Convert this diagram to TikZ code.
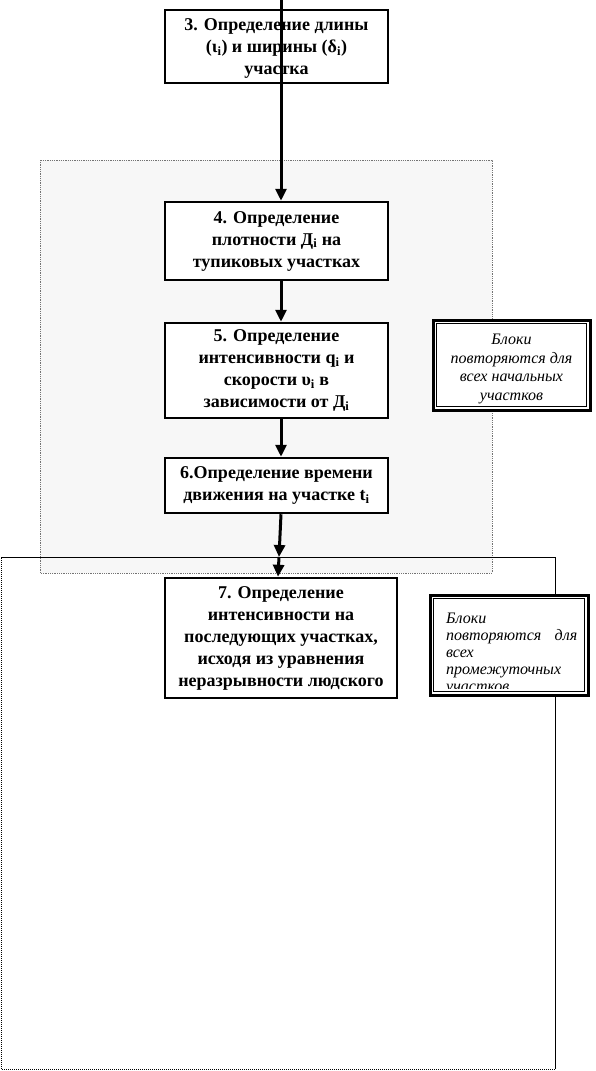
\documentclass[tikz,border=0pt]{standalone}
\usepackage{fontspec}
\setmainfont{Liberation Serif}
\usetikzlibrary{arrows.meta}
\begin{document}
\begin{tikzpicture}[x=1pt,y=-1pt,
  stepbox/.style={draw=black,line width=2.5pt,fill=white,font=\bfseries\fontsize{18}{22}\selectfont,align=center,inner sep=0pt},
  arr/.style={line width=3pt,-{Triangle[width=11pt,length=12pt]}},
  notebox/.style={draw=black,line width=3pt,fill=white,inner sep=0pt},
  notetext/.style={font=\itshape\fontsize{16}{18.5}\selectfont,inner sep=0pt}]
\useasboundingbox (0,0) rectangle (595,1071);
% grey region
\fill[black!3] (40,160) rectangle (492,573);
\draw[black!55,densely dotted,line width=0.8pt] (40,160) rectangle (492,573);
% big lower frame
\draw[black,line width=0.7pt] (1,557) -- (555,557) -- (555,1069);
\draw[black,densely dotted,line width=1pt] (555,1069) -- (1,1069) -- (1,557);
% boxes
\node[stepbox,minimum width=223pt,minimum height=73pt] (b3) at (276.5,46.5)
  {\raisebox{0pt}[16pt][0pt]{3. Определение длины}\\(ι\textsubscript{i}) и ширины (δ\textsubscript{i})\\участка};
\node[stepbox,minimum width=223pt,minimum height=78pt] (b4) at (276.5,241)
  {4. Определение\\плотности Д\textsubscript{i} на\\тупиковых участках};
\node[stepbox,minimum width=223pt,minimum height=95pt] (b5) at (276.5,370.5)
  {5. Определение\\интенсивности q\textsubscript{i} и\\скорости υ\textsubscript{i} в\\зависимости от Д\textsubscript{i}};
\node[stepbox,minimum width=223pt,minimum height=55pt] (b6) at (276.5,485.5)
  {6.Определение времени\\движения на участке t\textsubscript{i}};
\node[stepbox,minimum width=232pt,minimum height=120pt] (b7) at (281,638)
  {7. Определение\\интенсивности на\\последующих участках,\\исходя из уравнения\\неразрывности людского};
% connectors
\coordinate (top) at (281,0);
\coordinate (mid) at (279,557);
\draw[arr] (top) -- ([xshift=4.5pt]b4.north);
\draw[arr] ([xshift=4.5pt]b4.south) -- ([xshift=4.5pt]b5.north);
\draw[arr] ([xshift=4.5pt]b5.south) -- ([xshift=4.5pt]b6.north);
\draw[arr] ([xshift=4.5pt]b6.south) -- (mid);
\draw[arr] (mid) -- ([xshift=-3pt]b7.north);
% note 1
\node[notebox,minimum width=157pt,minimum height=90pt] (n1) at (511.5,365) {};
\draw[line width=0.8pt] ([shift={(5,5)}]n1.north west) rectangle ([shift={(-5,-5)}]n1.south east);
\node[notetext,align=center] (t1) at ([yshift=-4pt]n1.center)
  {Блоки\\повторяются для\\всех начальных\\участков};
% note 2
\node[notebox,minimum width=158pt,minimum height=100pt] (n2) at (509,645) {};
\draw[line width=0.8pt] ([shift={(5,5)}]n2.north west) rectangle ([shift={(-5,-5)}]n2.south east);
\begin{scope}
\clip (440,600) rectangle (580,688);
\node[notetext,font=\itshape\fontsize{16}{17}\selectfont,align=left,text width=131pt,anchor=north west] (t2) at (446,613)
  {Блоки\\повторяются\hfill для\\всех\\промежуточных\\участков};
\end{scope}
\end{tikzpicture}
\end{document}
